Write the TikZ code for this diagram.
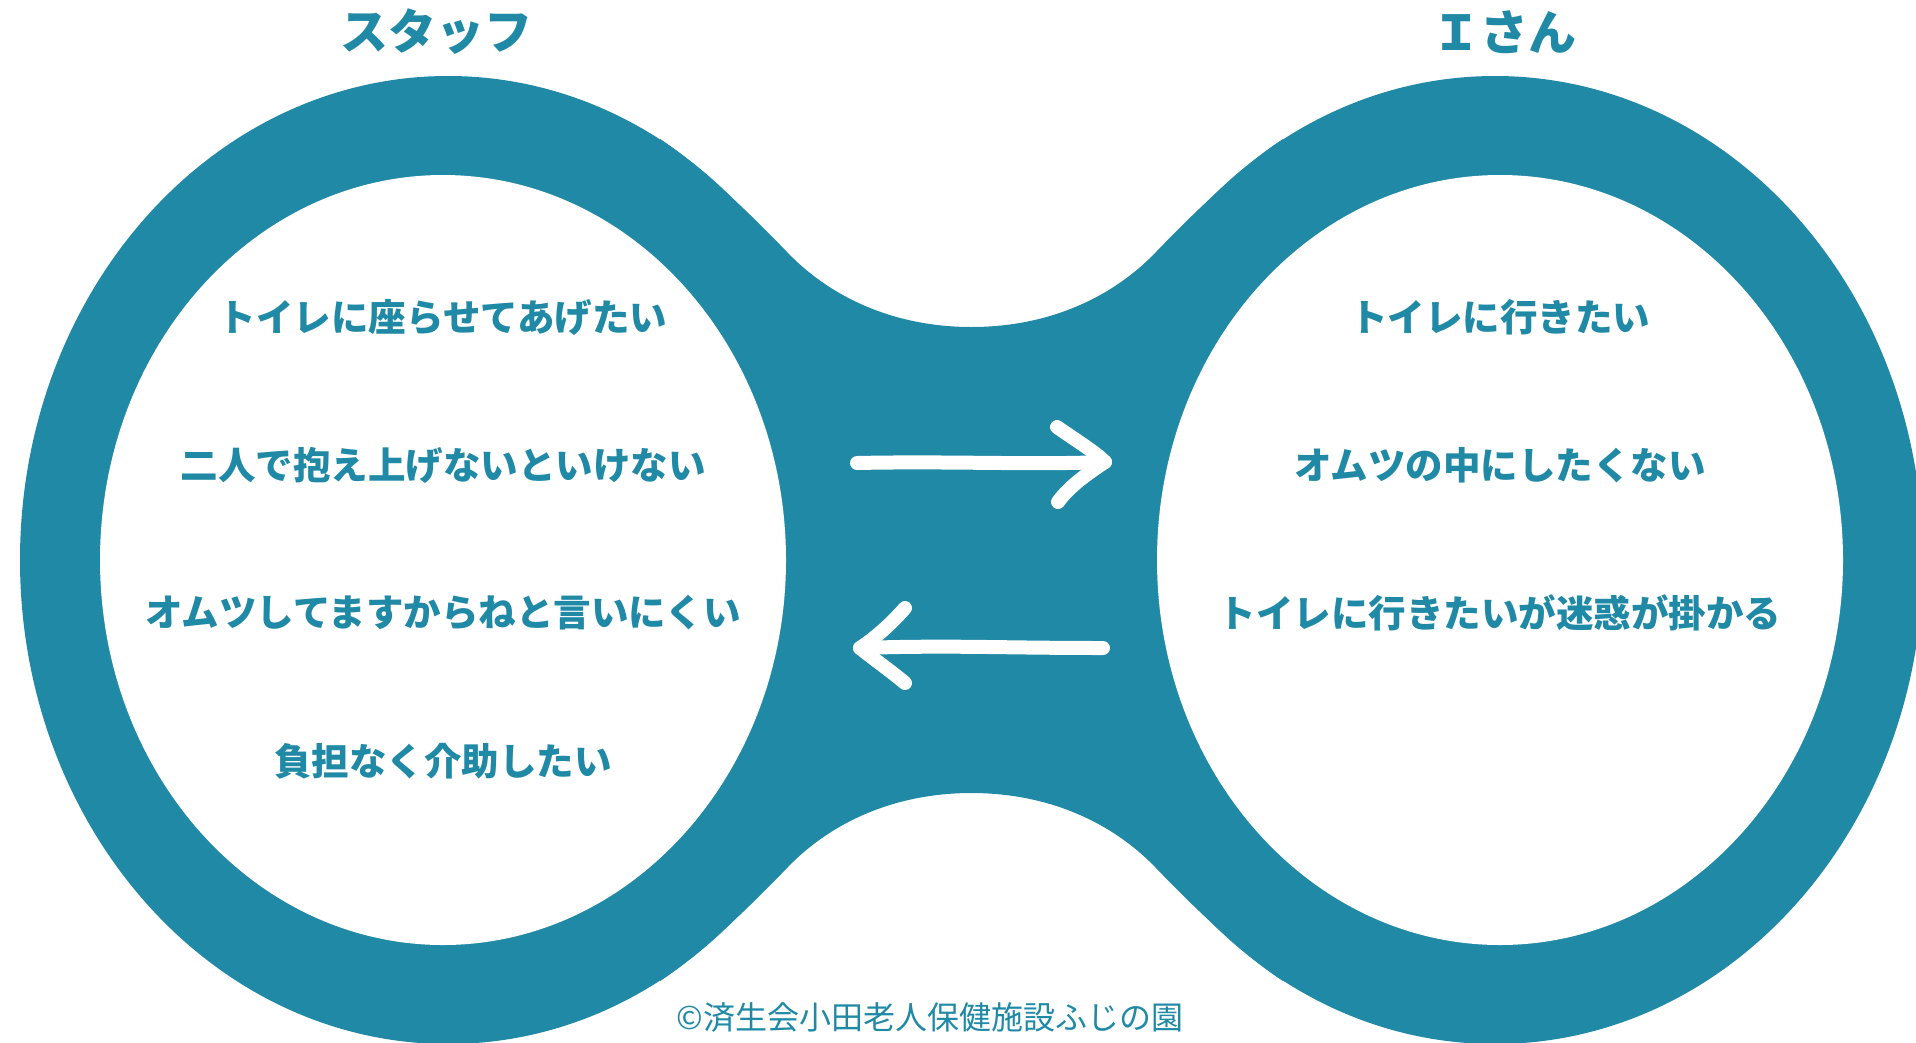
\documentclass[tikz,border=0pt]{standalone}
\usepackage{fontspec}
\newfontfamily\jp{Noto Sans CJK JP}
\definecolor{teal1}{RGB}{31,137,166}
\begin{document}
\begin{tikzpicture}[x=1pt,y=-1pt,
  ring/.style={fill=teal1},
  hole/.style={fill=white},
  title/.style={font=\jp\bfseries\fontsize{48}{56}\selectfont, text=teal1, inner sep=0pt},
  item/.style={font=\jp\bfseries\fontsize{37.5}{44}\selectfont, text=teal1, inner sep=0pt},
  credit/.style={font=\jp\fontsize{32}{38}\selectfont, text=teal1, inner sep=0pt},
  flow/.style={white, line width=14pt, line cap=round, line join=round}]
\useasboundingbox (0,0) rectangle (1916,1042);
\clip (0,0) rectangle (1916,1042);
% outer rings
\fill[ring] (448,560) ellipse [x radius=428, y radius=484];
\fill[ring] (1495,560) ellipse [x radius=428, y radius=484];
% neck
\fill[ring] (660,139) .. controls (700,165) and (752,215.5) .. (787,252)
  .. controls (828,295) and (891,327) .. (971.5,327)
  .. controls (1052,327) and (1115,295) .. (1156,252)
  .. controls (1191,215.5) and (1243,165) .. (1283,139)
  -- (1283,981)
  .. controls (1243,955) and (1191,904.5) .. (1156,868)
  .. controls (1115,825) and (1052,793) .. (971.5,793)
  .. controls (891,793) and (828,825) .. (787,868)
  .. controls (752,904.5) and (700,955) .. (660,981)
  -- cycle;
% inner holes
\fill[hole] (443,560) ellipse [x radius=343, y radius=385];
\fill[hole] (1500,560) ellipse [x radius=343, y radius=385];
% titles
\node[title] (staff) at (436,32) {スタッフ};
\node[title] (isan) at (1504,32) {Ｉさん};
% left items
\node[item] (s1) at (443,317) {トイレに座らせてあげたい};
\node[item] (s2) at (443,465) {二人で抱え上げないといけない};
\node[item] (s3) at (443,613) {オムツしてますからねと言いにくい};
\node[item] (s4) at (443,761) {負担なく介助したい};
% right items
\node[item] (i1) at (1500,317) {トイレに行きたい};
\node[item] (i2) at (1500,465) {オムツの中にしたくない};
\node[item] (i3) at (1500,613) {トイレに行きたいが迷惑が掛かる};
% credit
\node[credit] (cr) at (930,1017) {©済生会小田老人保健施設ふじの園};
% arrows
\coordinate (r0) at (857,463);
\coordinate (r1) at (1105,462);
\coordinate (ru) at (1057,427);
\coordinate (rl) at (1058,502);
\draw[flow] (r0) .. controls (950,461) and (1030,465) .. (r1);
\draw[flow] (ru) .. controls (1080,443) and (1095,452) .. (r1)
  .. controls (1085,475) and (1068,488) .. (rl);
\coordinate (l0) at (1103,648);
\coordinate (l1) at (860,648);
\coordinate (lu) at (905,608);
\coordinate (ll) at (905,683);
\draw[flow] (l0) .. controls (1000,648) and (950,645) .. (l1);
\draw[flow] (lu) .. controls (890,625) and (875,638) .. (l1)
  .. controls (875,660) and (892,672) .. (ll);
\end{tikzpicture}
\end{document}
